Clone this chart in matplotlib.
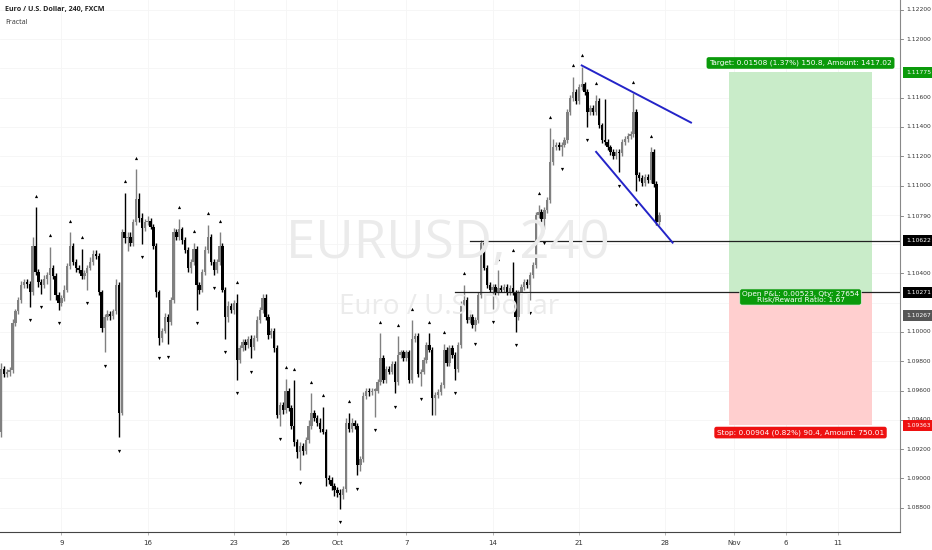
import numpy as np
import matplotlib.pyplot as plt

# 4H closes, EURUSD
closes = [
    1.0975, 1.0971, 1.0973, 1.0974, 1.1006, 1.1014, 1.1022, 1.1032, 1.1034, 1.1033,
    1.1027, 1.1059, 1.1041, 1.1034, 1.1032, 1.1036, 1.1039, 1.1044, 1.1038, 1.1025,
    1.1020, 1.1023, 1.1029, 1.1045, 1.1059, 1.1048, 1.1044, 1.1042, 1.1038, 1.1040,
    1.1044, 1.1048, 1.1053, 1.1052, 1.1027, 1.1003, 1.1010, 1.1012, 1.1011, 1.1014,
    1.1032, 1.0945, 1.1068, 1.1064, 1.1065, 1.1061, 1.1075, 1.1091, 1.1078, 1.1071,
    1.1075, 1.1076, 1.1072, 1.1059, 1.1027, 1.0996, 1.1001, 1.1010, 1.1007, 1.1022,
    1.1068, 1.1065, 1.1070, 1.1063, 1.1056, 1.1044, 1.1048, 1.1057, 1.1032, 1.1029,
    1.1041, 1.1056, 1.1065, 1.1048, 1.1042, 1.1048, 1.1059, 1.1029, 1.1010, 1.1018,
    1.1015, 1.1020, 1.0981, 1.0989, 1.0993, 1.0991, 1.0995, 1.0990, 1.0996, 1.1008,
    1.1015, 1.1023, 1.1010, 1.0998, 1.1001, 1.0989, 1.0943, 1.0950, 1.0947, 1.0960,
    1.0948, 1.0936, 1.0925, 1.0918, 1.0922, 1.0919, 1.0926, 1.0936, 1.0945, 1.0941,
    1.0938, 1.0934, 1.0932, 1.0900, 1.0899, 1.0895, 1.0892, 1.0890, 1.0889, 1.0893,
    1.0938, 1.0934, 1.0938, 1.0936, 1.0909, 1.0913, 1.0956, 1.0960, 1.0959, 1.0960,
    1.0960, 1.0966, 1.0982, 1.0967, 1.0975, 1.0973, 1.0978, 1.0966, 1.0984, 1.0986,
    1.0982, 1.0986, 1.0967, 1.0995, 1.0997, 1.0971, 1.0973, 1.0981, 1.0991, 1.0988,
    1.0955, 1.0957, 1.0959, 1.0964, 1.0988, 1.0979, 1.0989, 1.0984, 1.0975, 1.0991,
    1.1018, 1.1022, 1.1008, 1.1010, 1.1005, 1.1008, 1.1025, 1.1061, 1.1044, 1.1032,
    1.1029, 1.1031, 1.1027, 1.1030, 1.1029, 1.1031, 1.1027, 1.1030, 1.1027, 1.1010,
    1.1027, 1.1031, 1.1034, 1.1032, 1.1039, 1.1046, 1.1080, 1.1082, 1.1077, 1.1083,
    1.1090, 1.1116, 1.1126, 1.1128, 1.1126, 1.1128, 1.1131, 1.1150, 1.1160, 1.1164,
    1.1158, 1.1167, 1.1169, 1.1164, 1.1150, 1.1153, 1.1150, 1.1158, 1.1141, 1.1131,
    1.1130, 1.1126, 1.1123, 1.1120, 1.1123, 1.1122, 1.1130, 1.1132, 1.1134, 1.1135,
    1.1150, 1.1107, 1.1105, 1.1102, 1.1106, 1.1104, 1.1123, 1.1101, 1.1075, 1.1080,
]
first_open = 1.0932

# wick lengths above / below the body, in pips
hi_ext = [
    4, 2, 2, 2, 3, 2, 2, 3, 2, 2,   2, 6, 26, 2, 2, 3, 2, 14, 2, 2,
    2, 2, 3, 2, 9, 2, 2, 2, 15, 2,  2, 3, 3, 3, 2, 2, 2, 3, 2, 2,
    4, 2, 2, 27, 3, 3, 2, 20, 4, 3, 2, 3, 2, 2, 2, 2, 2, 3, 2, 2,
    3, 2, 7, 2, 2, 2, 2, 4, 2, 2,   2, 3, 8, 2, 2, 2, 9, 2, 2, 3,
    2, 2, 6, 2, 2, 2, 2, 3, 2, 3,   2, 3, 3, 2, 2, 2, 2, 2, 2, 8,
    2, 2, 31, 2, 3, 2, 2, 4, 13, 2, 2, 3, 15, 2, 2, 2, 2, 2, 3, 2,
    3, 7, 3, 2, 2, 2, 3, 2, 2, 2,   2, 2, 17, 2, 2, 2, 2, 2, 13, 2,
    2, 2, 2, 13, 2, 2, 2, 2, 2, 8,  2, 2, 2, 2, 4, 2, 2, 2, 2, 2,
    3, 10, 2, 2, 2, 2, 2, 2, 2, 2,  2, 2, 2, 12, 2, 2, 2, 2, 18, 2,
    2, 2, 2, 2, 2, 2, 2, 5, 2, 2,   2, 23, 6, 2, 2, 2, 2, 2, 2, 10,
    2, 2, 12, 2, 2, 2, 2, 4, 2, 2,  28, 2, 2, 2, 2, 2, 2, 2, 2, 2,
    13, 2, 2, 2, 2, 2, 3, 2, 2, 2,
]
lo_ext = [
    4, 2, 2, 3, 2, 2, 2, 2, 2, 3,   10, 2, 2, 3, 6, 2, 3, 17, 2, 3,
    5, 2, 2, 2, 2, 2, 3, 2, 2, 2,   11, 2, 2, 2, 2, 3, 17, 2, 3, 2,
    2, 17, 2, 3, 9, 2, 2, 2, 3, 11, 2, 2, 2, 2, 3, 5, 3, 2, 15, 2,
    2, 2, 2, 3, 2, 3, 4, 2, 17, 3,  2, 2, 2, 2, 3, 2, 2, 2, 15, 3,
    2, 3, 14, 2, 2, 3, 2, 8, 2, 2,  2, 2, 2, 3, 2, 3, 2, 7, 3, 2,
    2, 2, 3, 4, 12, 3, 2, 2, 2, 2,  2, 2, 2, 5, 3, 3, 4, 3, 10, 3,
    2, 2, 2, 2, 7, 4, 2, 2, 3, 2,   18, 2, 2, 2, 2, 2, 2, 8, 2, 2,
    2, 2, 2, 2, 2, 2, 8, 2, 2, 2,   12, 12, 2, 2, 2, 2, 2, 2, 8, 2,
    2, 2, 2, 2, 2, 4, 2, 2, 2, 2,   2, 13, 2, 2, 2, 2, 2, 2, 2, 10,
    2, 2, 2, 2, 10, 2, 2, 2, 2, 7,  2, 2, 2, 2, 2, 6, 2, 2, 2, 2,
    2, 2, 2, 2, 10, 2, 2, 2, 2, 2,  2, 2, 2, 2, 2, 13, 2, 2, 2, 2,
    2, 11, 2, 2, 2, 2, 2, 2, 2, 2,
]

# date axis (bar index of each label)
date_pos = [21, 51, 81, 99, 117, 141, 171, 201, 231, 255, 273, 291]
date_labels = ['9', '16', '23', '26', 'Oct', '7', '14', '21', '28', 'Nov', '6', '11']
price_ticks = [1.122, 1.120, 1.116, 1.114, 1.112, 1.110, 1.104, 1.100,
               1.098, 1.096, 1.094, 1.092, 1.090, 1.088]

# drawings
levels = [1.10622, 1.10271]
level_start = [163, 158]
wedge_upper = [(202, 1.1182), (240, 1.1143)]
wedge_lower = [(207, 1.1123), (233.6, 1.1061)]
entry, target, stop = 1.10267, 1.11775, 1.09363
box_start, box_end = 253.2, 303
last_price = 1.10790

opens = [first_open] + closes[:-1]
n = len(closes)
idx = np.arange(n)
o = np.array(opens)
c = np.array(closes)
top = np.maximum(o, c)
bot = np.minimum(o, c)
highs = top + np.array(hi_ext) * 0.0001
lows = bot - np.array(lo_ext) * 0.0001

fig = plt.figure(figsize=(9.32, 5.5), dpi=100)
ax = fig.add_axes([0, 18 / 550, 900 / 932, 532 / 550])
ax.set_xlim(-0.35, 312.7)
ax.set_ylim(1.08634, 1.12267)

for p in price_ticks + [1.118, 1.108, 1.106, 1.102]:
    ax.axhline(p, color='#f5f5f5', lw=0.6, zorder=0)
for d in date_pos:
    ax.axvline(d, color='#f5f5f5', lw=0.6, zorder=0)

# watermark
fig.text(0.481, 1 - 258 / 550, 'EURUSD, 240', ha='center', va='baseline',
         fontsize=38, color='#ebebeb', family='Open Sans', zorder=0.5)
fig.text(0.482, 1 - 314 / 550, 'Euro / U.S. Dollar', ha='center', va='baseline',
         fontsize=20, color='#ebebeb', family='Open Sans', zorder=0.5)

# position box
ax.fill_between([box_start, box_end], entry, target, color='#c9ecc9', lw=0, zorder=1)
ax.fill_between([box_start, box_end], stop, entry, color='#ffcfcf', lw=0, zorder=1)

# candles
col = np.where(c >= o, '#808080', '#000000')
ax.vlines(idx, lows, highs, colors=col, lw=1.0, zorder=3)
ax.bar(idx, np.maximum(top - bot, 0.00008), bottom=bot, width=0.8, color=col, lw=0, zorder=3)

# fractals
up_f = [i for i in range(2, n - 2) if highs[i] > max(highs[i - 2], highs[i - 1], highs[i + 1], highs[i + 2])]
dn_f = [i for i in range(2, n - 2) if lows[i] < min(lows[i - 2], lows[i - 1], lows[i + 1], lows[i + 2])]
ax.plot(up_f, highs[up_f] + 0.0008, '^', ms=2.3, color='black', mew=0, zorder=4)
ax.plot(dn_f, lows[dn_f] - 0.0009, 'v', ms=2.3, color='black', mew=0, zorder=4)

for lv, st in zip(levels, level_start):
    ax.plot([st, 312.7], [lv, lv], color='#222222', lw=0.9, zorder=5)

for ln in (wedge_upper, wedge_lower):
    ax.plot([ln[0][0], ln[1][0]], [ln[0][1], ln[1][1]], color='#2424c8', lw=1.4, zorder=5)

mid = (box_start + box_end) / 2
ax.text(mid, 1.11837, 'Target: 0.01508 (1.37%) 150.8, Amount: 1417.02', ha='center', va='center',
        fontsize=5.3, color='white', zorder=6,
        bbox=dict(boxstyle='round,pad=0.35,rounding_size=0.3', fc='#0a9a0a', ec='none'))
ax.text(mid, 1.10239, 'Open P&L: 0.00523, Qty: 27654\nRisk/Reward Ratio: 1.67', ha='center', va='center',
        fontsize=5.3, color='white', zorder=6, linespacing=0.95,
        bbox=dict(boxstyle='round,pad=0.3,rounding_size=0.3', fc='#0a9a0a', ec='#e0f0e0', lw=0.5))
ax.text(mid, 1.09313, 'Stop: 0.00904 (0.82%) 90.4, Amount: 750.01', ha='center', va='center',
        fontsize=5.3, color='white', zorder=6,
        bbox=dict(boxstyle='round,pad=0.35,rounding_size=0.3', fc='#ee1111', ec='none'))

# axes styling
for s in ('top', 'left'):
    ax.spines[s].set_visible(False)
ax.spines['right'].set_color('#888888')
ax.spines['bottom'].set_color('#444444')
ax.spines['right'].set_linewidth(0.8)
ax.spines['bottom'].set_linewidth(0.8)
ax.set_yticks([])
ax.set_xticks(date_pos)
ax.set_xticklabels(date_labels, fontsize=5, color='#333333')
ax.tick_params(axis='x', length=2, width=0.5, color='#999999', pad=4)

# price scale labels
ytr = ax.get_yaxis_transform()
for p in price_ticks + [last_price]:
    ax.plot([1.0, 1.0035], [p, p], color='#777777', lw=0.6, transform=ytr, clip_on=False)
    ax.text(1.0065, p, f'{p:.5f}', transform=ytr, ha='left', va='center',
            fontsize=4.3, color='#333333', clip_on=False)

tags = [(target, '1.11775', '#0a9a0a'), (1.10622, '1.10622', '#000000'),
        (1.10271, '1.10271', '#000000'), (1.10110, '1.10267', '#555555'), (stop, '1.09363', '#ee1111')]
for p, t, fc in tags:
    ax.text(1.0065, p, t, transform=ytr, ha='left', va='center',
            fontsize=4.3, color='white', clip_on=False, zorder=7,
            bbox=dict(boxstyle='square,pad=0.5', fc=fc, ec='none'))

fig.text(5 / 932, 1 - 10 / 550, 'Euro / U.S. Dollar, 240, FXCM', fontsize=5.1, weight='bold',
         color='#222222', va='center', family='Open Sans')
fig.text(5 / 932, 1 - 23 / 550, 'Fractal', fontsize=5.1, color='#333333', va='center', family='Open Sans')

fig.savefig('out.png', dpi=100, facecolor='white')
